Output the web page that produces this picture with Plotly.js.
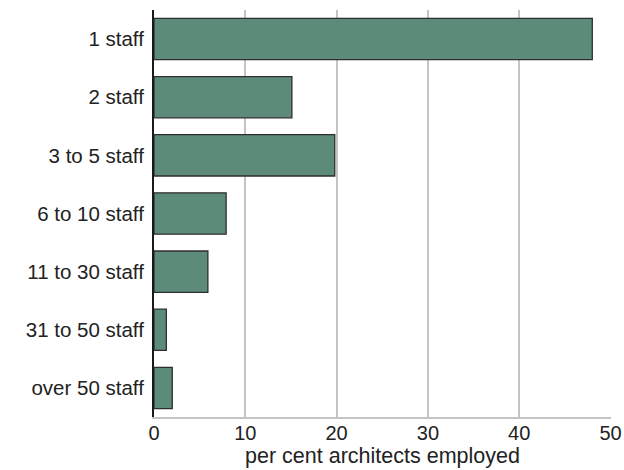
<!DOCTYPE html>
<html>
<head>
<meta charset="utf-8">
<script src="https://cdn.plot.ly/plotly-3.0.1.min.js"></script>
<style>html,body{margin:0;padding:0;background:#fff;}#chart{width:624px;height:470px;}</style>
</head>
<body>
<div id="chart"></div>
<script>
const categories = ["1 staff", "2 staff", "3 to 5 staff", "6 to 10 staff", "11 to 30 staff", "31 to 50 staff", "over 50 staff"];
const values = [48, 15.1, 19.8, 7.9, 5.9, 1.35, 2.0];
const xTicks = [0, 10, 20, 30, 40, 50];

const trace = {
  type: "bar",
  orientation: "h",
  y: categories,
  x: values,
  width: 0.71,
  marker: {color: "#5c8b79", line: {color: "#2e2e2e", width: 1.3}},
  hoverinfo: "none"
};

const layout = {
  width: 624, height: 470,
  margin: {l: 154, r: 13, t: 10, b: 53},
  paper_bgcolor: "#fff", plot_bgcolor: "#fff",
  font: {family: "Liberation Sans, Arial, sans-serif", size: 20, color: "#222"},
  showlegend: false,
  bargap: 0.29,
  xaxis: {
    range: [0, 50.05],
    tickvals: xTicks,
    ticktext: xTicks.map(String),
    tickfont: {size: 20},
    showgrid: true, gridcolor: "#c4c4c6", gridwidth: 2,
    zeroline: false,
    showline: true, linecolor: "#c4c4c6", linewidth: 2,
    ticks: "", ticklabelstandoff: -3,
    title: {text: "per cent architects employed", standoff: 4, font: {size: 21.5}},
    fixedrange: true
  },
  yaxis: {
    categoryorder: "array", categoryarray: categories,
    autorange: "reversed",
    tickfont: {size: 20.5},
    showgrid: false, zeroline: false,
    showline: true, linecolor: "#1a1a1a", linewidth: 2,
    ticks: "", ticklabelstandoff: 4,
    fixedrange: true
  }
};

Plotly.newPlot("chart", [trace], layout, {displayModeBar: false, staticPlot: true});
</script>
</body>
</html>
